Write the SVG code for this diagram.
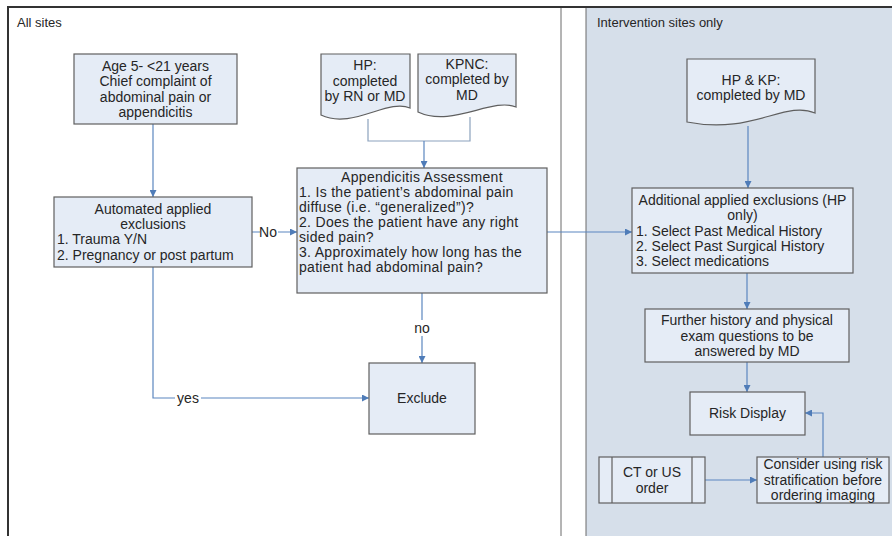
<svg xmlns="http://www.w3.org/2000/svg" width="892" height="536" viewBox="0 0 892 536">
<style>
text{font-family:"Liberation Sans",Arial,sans-serif;font-size:14px;fill:#262626}
.c{text-anchor:middle}
.box{fill:#e5ecf6;stroke:#5f5f5f;stroke-width:1.2}
.ln{fill:none;stroke:#5b86bf;stroke-width:1.2}
.ln2{fill:none;stroke:#8ca2bd;stroke-width:1.2}
.lane{font-size:13px}
.lbl{fill:#fff}
.sp{letter-spacing:0.3px}
</style>
<defs>
<marker id="ah" viewBox="0 0 10 10" refX="10" refY="5" markerWidth="7" markerHeight="7" markerUnits="userSpaceOnUse" orient="auto">
<path d="M0,0 L10,5 L0,10 Z" fill="#4f7cb8"/>
</marker>
</defs>
<g id="lanes">
<rect x="0" y="0" width="892" height="536" fill="#fff"/>
<rect x="586" y="7" width="306" height="529" fill="#d6dfea"/>
<line x1="586" y1="7" x2="586" y2="536" stroke="#6b6b6b" stroke-width="1"/>
<line x1="561" y1="7" x2="561" y2="536" stroke="#6b6b6b" stroke-width="1"/>
<line x1="8" y1="7" x2="8" y2="536" stroke="#333" stroke-width="2"/>
<line x1="7" y1="7" x2="892" y2="7" stroke="#333" stroke-width="2"/>
<text class="lane" x="17" y="27">All sites</text>
<text class="lane" x="597" y="27">Intervention sites only</text>
</g>
<g id="connectors">
<line class="ln" x1="153" y1="124" x2="153" y2="197" marker-end="url(#ah)"/>
<line class="ln" x1="252" y1="232" x2="297" y2="232" marker-end="url(#ah)"/>
<polyline class="ln2" points="368,119 368,141 470,141 470,117"/>
<line class="ln" x1="424" y1="141" x2="424" y2="168" marker-end="url(#ah)"/>
<line class="ln" x1="547" y1="232" x2="632" y2="232" marker-end="url(#ah)"/>
<line class="ln" x1="422" y1="293" x2="422" y2="363" marker-end="url(#ah)"/>
<polyline class="ln" points="153,267 153,398 369,398" marker-end="url(#ah)"/>
<line class="ln" x1="748" y1="126" x2="748" y2="188" marker-end="url(#ah)"/>
<line class="ln" x1="747" y1="273" x2="747" y2="309" marker-end="url(#ah)"/>
<line class="ln" x1="747" y1="362" x2="747" y2="392" marker-end="url(#ah)"/>
<line class="ln" x1="705" y1="480" x2="757" y2="480" marker-end="url(#ah)"/>
<polyline class="ln" points="823,457 823,413 805,413" marker-end="url(#ah)"/>
<rect class="lbl" x="260" y="224" width="18" height="16"/>
<text x="268" y="237" class="c">No</text>
<rect class="lbl" x="175" y="390" width="26" height="16"/>
<text x="188" y="403" class="c">yes</text>
<rect class="lbl" x="412" y="320" width="20" height="16"/>
<text x="422" y="333" class="c">no</text>
</g>
<g id="age">
<rect class="box" x="74" y="54" width="163" height="70"/>
<text class="c" x="155.5" y="71">Age 5- &lt;21 years</text>
<text class="c" x="155.5" y="86">Chief complaint of</text>
<text class="c" x="155.5" y="102">abdominal pain or</text>
<text class="c" x="155.5" y="117">appendicitis</text>
</g>
<g id="automated">
<rect class="box" x="54" y="197" width="198" height="70"/>
<text class="c" x="153" y="214">Automated applied</text>
<text class="c" x="153" y="229">exclusions</text>
<text x="57" y="244">1. Trauma Y/N</text>
<text x="57" y="260">2. Pregnancy or post partum</text>
</g>
<g id="hp">
<path class="box" d="M321,54 H410 V108 C388,98 352,130 321,115 Z"/>
<text class="c" x="365" y="70">HP:</text>
<text class="c" x="365" y="86">completed</text>
<text class="c" x="365" y="101">by RN or MD</text>
</g>
<g id="kpnc">
<path class="box" d="M418,54 H516 V107 C492,97 452,128 418,112 Z"/>
<text class="c" x="467" y="69">KPNC:</text>
<text class="c" x="467" y="84">completed by</text>
<text class="c" x="467" y="100">MD</text>
</g>
<g id="assessment">
<rect class="box" x="297" y="168" width="250" height="125"/>
<text class="c sp" x="422" y="182">Appendicitis Assessment</text>
<text class="sp" x="299" y="197">1. Is the patient’s abdominal pain</text>
<text class="sp" x="299" y="212">diffuse (i.e. “generalized”)?</text>
<text class="sp" x="299" y="227">2. Does the patient have any right</text>
<text class="sp" x="299" y="242">sided pain?</text>
<text class="sp" x="299" y="257">3. Approximately how long has the</text>
<text class="sp" x="299" y="272">patient had abdominal pain?</text>
</g>
<g id="exclude">
<rect class="box" x="369" y="363" width="106" height="71"/>
<text class="c" x="422" y="403">Exclude</text>
</g>
<g id="hpkp">
<path class="box" d="M687,59 H815 V113 C785,100 752,135 687,122 Z"/>
<text class="c" x="751" y="85">HP &amp; KP:</text>
<text class="c" x="751" y="100">completed by MD</text>
</g>
<g id="additional">
<rect class="box" x="632" y="188" width="221" height="85"/>
<text class="c" x="742.5" y="205">Additional applied exclusions (HP</text>
<text class="c" x="742.5" y="220">only)</text>
<text x="636" y="236">1. Select Past Medical History</text>
<text x="636" y="251">2. Select Past Surgical History</text>
<text x="636" y="266">3. Select medications</text>
</g>
<g id="further">
<rect class="box" x="645" y="309" width="204" height="53"/>
<text class="c" x="747" y="325">Further history and physical</text>
<text class="c" x="747" y="341">exam questions to be</text>
<text class="c" x="747" y="356">answered by MD</text>
</g>
<g id="risk">
<rect class="box" x="690" y="392" width="115" height="43"/>
<text class="c" x="747.5" y="418">Risk Display</text>
</g>
<g id="ctus">
<rect class="box" x="599" y="457" width="106" height="46"/>
<line x1="612" y1="457" x2="612" y2="503" stroke="#5f5f5f" stroke-width="1.2"/>
<line x1="692" y1="457" x2="692" y2="503" stroke="#5f5f5f" stroke-width="1.2"/>
<text class="c" x="652" y="477">CT or US</text>
<text class="c" x="652" y="493">order</text>
</g>
<g id="consider">
<rect class="box" x="757" y="457" width="132" height="46"/>
<text class="c" x="823" y="469">Consider using risk</text>
<text class="c" x="823" y="485">stratification before</text>
<text class="c" x="823" y="500">ordering imaging</text>
</g>
</svg>
